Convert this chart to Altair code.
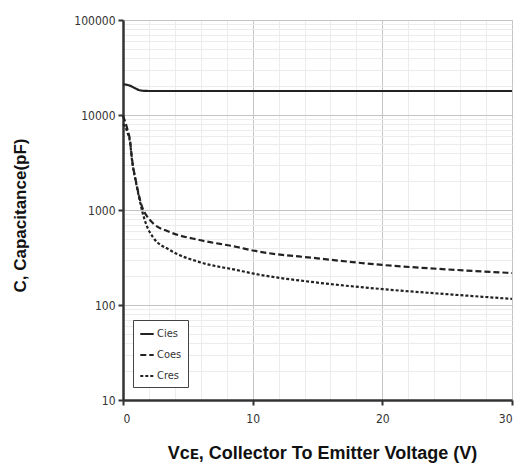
import altair as alt
import pandas as pd

# ---- data ----
cies_x = [0, 0.3, 0.6, 0.9, 1.2, 1.5, 2, 5, 10, 15, 20, 25, 30]
cies_y = [21000, 20800, 20200, 19200, 18400, 18000, 17900, 17900, 17900, 17900, 17900, 17900, 17900]

coes_x = [0, 0.15, 0.35, 0.54, 0.7, 1.0, 1.3, 1.5, 1.8, 2.3, 3.6, 5.9, 8.8, 10, 15, 20, 25, 30]
coes_y = [9800, 8600, 7000, 5400, 3400, 2000, 1300, 1050, 880, 730, 587, 483, 408, 375, 310, 264, 237, 217]

cres_x = [0, 0.15, 0.35, 0.54, 0.7, 1.0, 1.3, 1.5, 1.8, 2.3, 3.6, 5.9, 8.8, 10, 15, 20, 25, 30]
cres_y = [8000, 7600, 6500, 5200, 3300, 1950, 1250, 950, 700, 520, 380, 283, 233, 215, 172, 147, 130, 116]

series_names = ["Cies", "Coes", "Cres"]
y_ticks = [10, 100, 1000, 10000, 100000]
y_minor = [m * d for d in [10, 100, 1000, 10000] for m in range(2, 10)]
x_ticks = [0, 10, 20, 30]
x_minor = [2, 4, 6, 8, 12, 14, 16, 18, 22, 24, 26, 28]

rows = []
for name, xs, ys in zip(series_names, [cies_x, coes_x, cres_x], [cies_y, coes_y, cres_y]):
    for i, (a, b) in enumerate(zip(xs, ys)):
        rows.append({"series": name, "v": a, "c": b, "order": i})
df = pd.DataFrame(rows)

W, H = 389, 380
label_font = "Liberation Sans Narrow, DejaVu Sans Condensed, Liberation Sans"

y_all = sorted(y_ticks + y_minor)
x_all = sorted(x_ticks + x_minor)
dec_test = "indexof([10,100,1000,10000,100000], datum.value) >= 0"
xmaj_test = "indexof([0,10,20,30], datum.value) >= 0"

x_enc = alt.X(
    "v:Q",
    scale=alt.Scale(domain=[0, 30], nice=False),
    axis=alt.Axis(
        values=x_all,
        labelExpr="indexof([0,10,20,30], datum.value) >= 0 ? datum.label : ''",
        title="Vᴄᴇ, Collector To Emitter Voltage (V)",
        titleFont="Liberation Sans",
        titleFontSize=18,
        titleFontWeight="bold",
        titleColor="#111",
        titleX=199,
        titleY=53,
        titleAlign="center",
        titleBaseline="middle",
        labelFont=label_font,
        labelFontSize=12,
        labelColor="#333",
        labelPadding=8,
        domainColor="#333",
        domainWidth=2.5,
        tickColor={"condition": {"test": xmaj_test, "value": "#333"}, "value": "transparent"},
        tickWidth=2,
        tickSize=5,
        grid=True,
        gridColor={"condition": {"test": xmaj_test, "value": "#c4c4c4"}, "value": "#ececec"},
        gridWidth=1,
    ),
)

y_enc = alt.Y(
    "c:Q",
    scale=alt.Scale(type="log", domain=[10, 100000], nice=False),
    axis=alt.Axis(
        values=y_all,
        labelExpr=dec_test + " ? format(datum.value, 'd') : ''",
        title="C, Capacitance(pF)",
        titleFont="Liberation Sans",
        titleFontSize=17,
        titleFontWeight="bold",
        titleColor="#111",
        titleX=-103,
        titleY=195,
        titleAngle=270,
        titleBaseline="middle",
        titleAlign="center",
        labelFont=label_font,
        labelFontSize=12,
        labelColor="#333",
        labelPadding=3,
        domainColor="#333",
        domainWidth=2.5,
        tickColor={"condition": {"test": dec_test, "value": "#333"}, "value": "transparent"},
        tickWidth=2,
        tickSize=5,
        grid=True,
        gridColor={"condition": {"test": dec_test, "value": "#c4c4c4"}, "value": "#ececec"},
        gridWidth=1,
    ),
)

chart = (
    alt.Chart(df)
    .mark_line(color="#222", strokeWidth=2.2, interpolate="monotone")
    .encode(
        x=x_enc,
        y=y_enc,
        order="order:Q",
        detail="series:N",
        strokeDash=alt.StrokeDash(
            "series:N",
            scale=alt.Scale(domain=series_names, range=[[1, 0], [6, 3], [3, 2]]),
            legend=alt.Legend(
                title=None,
                orient="none",
                legendX=10,
                legendY=300,
                strokeColor="#444",
                fillColor="white",
                padding=6,
                symbolType="stroke",
                symbolStrokeWidth=2,
                symbolStrokeColor="#222",
                symbolSize=180,
                labelFont=label_font,
                labelFontSize=11,
                labelColor="#333",
                labelOffset=2,
                rowPadding=8,
            ),
        ),
    )
    .properties(
        width=W,
        height=H,
        autosize=alt.AutoSizeParams(type="none"),
        padding={"left": 123, "top": 20, "right": 9, "bottom": 69},
    )
    .configure_view(stroke="#b0b0b0", strokeWidth=1)
    .configure(background="white")
)

chart.save("out.html", embed_options={"renderer": "svg", "actions": False})
